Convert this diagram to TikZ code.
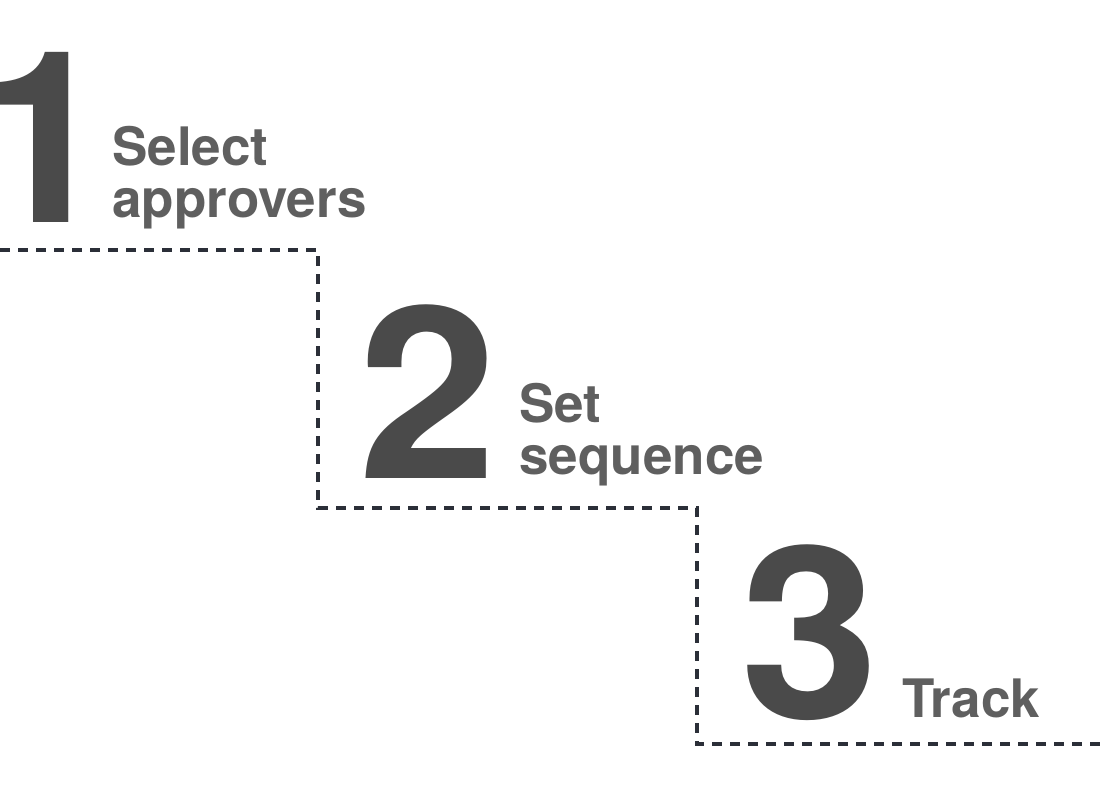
\documentclass[tikz,border=0pt]{standalone}
\usepackage{fontspec}
\setmainfont{TeX Gyre Heros}
\usetikzlibrary{positioning}
\definecolor{digit}{HTML}{4A4A4A}
\definecolor{label}{HTML}{5F5F5F}
\definecolor{stair}{HTML}{2B2F38}

\begin{document}
\begin{tikzpicture}[x=1pt, y=-1pt,
  every node/.style={inner sep=0pt, anchor=base west},
  numeral/.style={text=digit, font=\fontsize{240}{240}\selectfont\bfseries},
  steplabel/.style={text=label, align=left, font=\fontsize{53}{52}\selectfont\bfseries},
  stairline/.style={draw=stair, line width=4.5pt, dash pattern=on 10pt off 8pt}]
\useasboundingbox (0,0) rectangle (1101,801);
% 1. the three big step numbers
\node[numeral, xscale=1.05] (one)   at (-27,222) {1};
\node[numeral, xscale=1.04] (two)   at (358,478) {2};
\node[numeral, xscale=1.04] (three) at (740,718) {3};
% 2. the step labels (base = last line), aligned with the numbers
\node[steplabel] (sel)   at (112,217) {Select\\approvers};
\node[steplabel] (seq)   at (519,474) {Set\\sequence};
\node[steplabel] (track) at (902,717) {Track};
% 3. the dashed staircase under the steps
\coordinate (s0) at (0,250);
\coordinate (s1) at (318,250);
\coordinate (s2) at (318,508);
\coordinate (s3) at (697,508);
\coordinate (s4) at (697,744);
\coordinate (s5) at (1101,744);
\draw[stairline] (s0) -- (s1) -- (s2) -- (s3) -- (s4) -- (s5);
\end{tikzpicture}
\end{document}
